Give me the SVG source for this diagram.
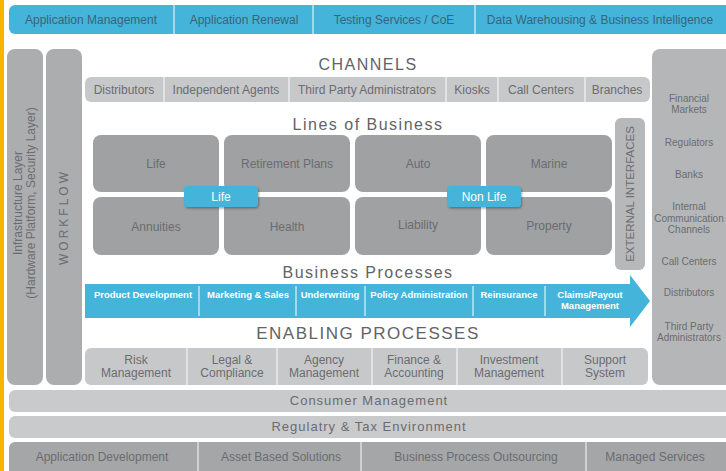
<svg xmlns="http://www.w3.org/2000/svg" width="726" height="471" viewBox="0 0 726 471">
<defs>
<style>
text{font-family:"Liberation Sans",Arial,sans-serif;fill:#6b6c6f;text-anchor:middle}
.top{font-size:12px;fill:#3a6478}
.lbl{font-size:12px}
.sm{font-size:10px}
.ttl{font-size:16px;letter-spacing:1.5px;fill:#626366}
.bp{font-size:9.5px;font-weight:bold;fill:#ffffff}
.badge{font-size:12px;fill:#ffffff}
.lob{fill:#a0a1a3}
.lt{fill:#c7c8ca}
.div{stroke:#ffffff;stroke-width:1.2;opacity:0.8}
.divw{stroke:#ffffff;stroke-width:1}
</style>
<filter id="sh" x="-20%" y="-30%" width="140%" height="170%">
<feDropShadow dx="1" dy="1.5" stdDeviation="1.2" flood-color="#000" flood-opacity="0.35"/>
</filter>
</defs>
<rect x="0" y="0" width="726" height="471" fill="#ffffff"/>
<rect x="0" y="0" width="4" height="471" fill="#f7b500"/>

<g id="top-bar">
<rect x="9" y="5" width="730" height="29" rx="6" fill="#44b4da"/>
<line class="divw" x1="174" y1="5" x2="174" y2="34"/>
<line class="divw" x1="313" y1="5" x2="313" y2="34"/>
<line class="divw" x1="475" y1="5" x2="475" y2="34"/>
<text class="top" x="91" y="24">Application Management</text>
<text class="top" x="244" y="24">Application Renewal</text>
<text class="top" x="394" y="24">Testing Services / CoE</text>
<text class="top" x="600" y="24">Data Warehousing &amp; Business Intelligence</text>
</g>

<g id="infrastructure">
<rect x="7" y="49" width="36" height="336" rx="8" fill="#acadaf"/>
<text class="lbl" transform="translate(25,203) rotate(-90)" y="-3">Infrastructure Layer</text>
<text class="lbl" transform="translate(25,203) rotate(-90)" y="10">(Hardware Platform, Security Layer)</text>
</g>

<g id="workflow">
<rect x="46" y="49" width="36" height="336" rx="8" fill="#acadaf"/>
<text class="lbl" transform="translate(64,217) rotate(-90)" y="4" style="letter-spacing:3px">WORKFLOW</text>
</g>

<g id="channels">
<text class="ttl" x="368" y="70">CHANNELS</text>
<rect class="lt" x="85" y="77" width="565" height="25" rx="6"/>
<line class="div" x1="164" y1="77" x2="164" y2="102"/>
<line class="div" x1="289" y1="77" x2="289" y2="102"/>
<line class="div" x1="446" y1="77" x2="446" y2="102"/>
<line class="div" x1="498" y1="77" x2="498" y2="102"/>
<line class="div" x1="585" y1="77" x2="585" y2="102"/>
<text class="lbl" x="124" y="94">Distributors</text>
<text class="lbl" x="226" y="94">Independent Agents</text>
<text class="lbl" x="367" y="94">Third Party Administrators</text>
<text class="lbl" x="472" y="94">Kiosks</text>
<text class="lbl" x="541" y="94">Call Centers</text>
<text class="lbl" x="617" y="94">Branches</text>
</g>

<g id="lines-of-business">
<text class="ttl" x="368" y="130">Lines of Business</text>
<rect class="lob" x="93" y="135" width="126" height="57" rx="8"/>
<rect class="lob" x="224" y="135" width="126" height="57" rx="8"/>
<rect class="lob" x="355" y="135" width="126" height="57" rx="8"/>
<rect class="lob" x="486" y="135" width="126" height="57" rx="8"/>
<rect class="lob" x="93" y="197" width="126" height="58" rx="8"/>
<rect class="lob" x="224" y="197" width="126" height="58" rx="8"/>
<rect class="lob" x="355" y="197" width="126" height="58" rx="8"/>
<rect class="lob" x="486" y="197" width="126" height="58" rx="8"/>
<text class="lbl" x="156" y="168">Life</text>
<text class="lbl" x="287" y="168">Retirement Plans</text>
<text class="lbl" x="418" y="168">Auto</text>
<text class="lbl" x="549" y="168">Marine</text>
<text class="lbl" x="156" y="231">Annuities</text>
<text class="lbl" x="287" y="231">Health</text>
<text class="lbl" x="418" y="229">Liability</text>
<text class="lbl" x="549" y="230">Property</text>
</g>

<g id="life-badge">
<rect x="184" y="186" width="74" height="21" rx="4" fill="#44b4da" filter="url(#sh)"/>
<text class="badge" x="221" y="201">Life</text>
</g>

<g id="nonlife-badge">
<rect x="447" y="186" width="74" height="21" rx="4" fill="#44b4da" filter="url(#sh)"/>
<text class="badge" x="484" y="201">Non Life</text>
</g>

<g id="external-interfaces">
<rect x="615" y="118" width="30" height="152" rx="6" fill="#b7b8ba"/>
<text transform="translate(630,194) rotate(-90)" y="4" style="font-size:11.5px">EXTERNAL INTERFACES</text>
</g>

<g id="business-processes">
<text class="ttl" x="368" y="278">Business Processes</text>
<path d="M85 284 H630 V275 L650 301 L630 327 V318 H85 Z" fill="#44b4da"/>
<line class="divw" x1="199" y1="286" x2="199" y2="316"/>
<line class="divw" x1="296" y1="286" x2="296" y2="316"/>
<line class="divw" x1="365" y1="286" x2="365" y2="316"/>
<line class="divw" x1="473" y1="286" x2="473" y2="316"/>
<line class="divw" x1="545" y1="286" x2="545" y2="316"/>
<text class="bp" x="143" y="298">Product Development</text>
<text class="bp" x="248" y="298">Marketing &amp; Sales</text>
<text class="bp" x="330" y="298">Underwriting</text>
<text class="bp" x="419" y="298">Policy Administration</text>
<text class="bp" x="509" y="298">Reinsurance</text>
<text class="bp" x="590" y="298">Claims/Payout</text>
<text class="bp" x="590" y="309">Management</text>
</g>

<g id="enabling-processes">
<text class="ttl" x="368" y="339" style="font-size:17px">ENABLING PROCESSES</text>
<rect class="lt" x="85" y="348" width="563" height="37" rx="6"/>
<line class="div" x1="187" y1="348" x2="187" y2="385"/>
<line class="div" x1="277" y1="348" x2="277" y2="385"/>
<line class="div" x1="372" y1="348" x2="372" y2="385"/>
<line class="div" x1="457" y1="348" x2="457" y2="385"/>
<line class="div" x1="562" y1="348" x2="562" y2="385"/>
<text class="lbl" x="136" y="364">Risk</text>
<text class="lbl" x="136" y="377">Management</text>
<text class="lbl" x="232" y="364">Legal &amp;</text>
<text class="lbl" x="232" y="377">Compliance</text>
<text class="lbl" x="324" y="364">Agency</text>
<text class="lbl" x="324" y="377">Management</text>
<text class="lbl" x="414" y="364">Finance &amp;</text>
<text class="lbl" x="414" y="377">Accounting</text>
<text class="lbl" x="509" y="364">Investment</text>
<text class="lbl" x="509" y="377">Management</text>
<text class="lbl" x="605" y="364">Support</text>
<text class="lbl" x="605" y="377">System</text>
</g>

<g id="external-parties">
<rect x="652" y="49" width="84" height="336" rx="8" fill="#b5b6b8"/>
<text class="sm" x="689" y="102">Financial</text>
<text class="sm" x="689" y="113">Markets</text>
<text class="sm" x="689" y="146">Regulators</text>
<text class="sm" x="689" y="178">Banks</text>
<text class="sm" x="689" y="210">Internal</text>
<text class="sm" x="689" y="222">Communication</text>
<text class="sm" x="689" y="233">Channels</text>
<text class="sm" x="689" y="265">Call Centers</text>
<text class="sm" x="689" y="296">Distributors</text>
<text class="sm" x="689" y="330">Third Party</text>
<text class="sm" x="689" y="341">Administrators</text>
</g>

<g id="consumer-management">
<rect x="9" y="390" width="730" height="22" rx="6" fill="#c9cacc"/>
<text class="lbl" x="369" y="405" style="font-size:13px;letter-spacing:1px">Consumer Management</text>
</g>

<g id="regulatory">
<rect x="9" y="416" width="730" height="22" rx="6" fill="#c9cacc"/>
<text class="lbl" x="369" y="431" style="font-size:13px;letter-spacing:1px">Regulatry &amp; Tax Environment</text>
</g>

<g id="services-bar">
<rect x="9" y="442" width="730" height="40" rx="6" fill="#a5a6a8"/>
<line class="div" x1="198" y1="442" x2="198" y2="471"/>
<line class="div" x1="361" y1="442" x2="361" y2="471"/>
<line class="div" x1="586" y1="442" x2="586" y2="471"/>
<text class="lbl" x="102" y="461">Application Development</text>
<text class="lbl" x="281" y="461">Asset Based Solutions</text>
<text class="lbl" x="476" y="461">Business Process Outsourcing</text>
<text class="lbl" x="655" y="461">Managed Services</text>
</g>
</svg>
